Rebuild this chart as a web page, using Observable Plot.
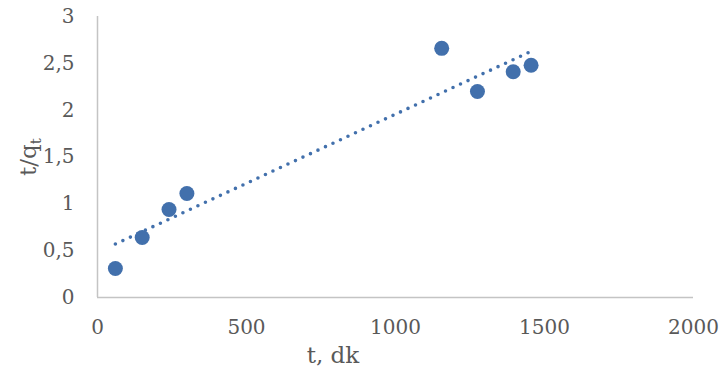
<!DOCTYPE html>
<html>
<head>
<meta charset="utf-8">
<script src="https://cdn.jsdelivr.net/npm/d3@7"></script>
<script src="https://cdn.jsdelivr.net/npm/@observablehq/plot@0.6"></script>
<style>
  html, body { margin: 0; padding: 0; background: #fff; }
  #chart svg { display: block; }
</style>
</head>
<body>
<div id="chart"></div>
<script>
const tValues = [60, 150, 240, 300, 1155, 1275, 1395, 1455];
const tqValues = [0.31, 0.64, 0.94, 1.11, 2.66, 2.20, 2.41, 2.48];
const xTicks = [0, 500, 1000, 1500, 2000];
const yTicks = [0, 0.5, 1, 1.5, 2, 2.5, 3];

const data = tValues.map((t, i) => ({t, tq: tqValues[i]}));
const color = "#4270AC";
const textColor = "#595959";
const fmtY = d => String(d).replace(".", ",");

const plot = Plot.plot({
  width: 721,
  height: 374,
  marginLeft: 97,
  marginRight: 28,
  marginTop: 16,
  marginBottom: 77,
  style: {fontFamily: "DejaVu Serif", fontSize: "20px", color: textColor, background: "#fff"},
  x: {domain: [0, 2000], ticks: xTicks, tickSize: 0, tickPadding: 22, label: null, tickFormat: d => String(d)},
  y: {domain: [0, 3], ticks: yTicks, tickSize: 0, tickPadding: 23, label: null, tickFormat: fmtY},
  marks: [
    Plot.ruleY([0], {stroke: "#c4c4c4", strokeWidth: 1.5}),
    Plot.ruleX([0], {stroke: "#c4c4c4", strokeWidth: 1.5}),
    Plot.dot(data, {x: "t", y: "tq", r: 7.5, fill: color, stroke: "none"}),
    Plot.linearRegressionY(data, {x: "t", y: "tq", ci: 0, stroke: color, strokeWidth: 3.6, strokeDasharray: "0,8.27", strokeLinecap: "round"})
  ]
});

const svg = d3.select(plot);
svg.selectAll("[aria-label='x-axis tick label'] text, [aria-label='y-axis tick label'] text").attr("fill", textColor);
svg.append("text")
  .attr("x", 333).attr("y", 363)
  .attr("text-anchor", "middle")
  .attr("font-family", "DejaVu Serif").attr("font-size", 23)
  .attr("fill", textColor)
  .text("t, dk");
const yl = svg.append("text")
  .attr("transform", "translate(36,157) rotate(-90)")
  .attr("text-anchor", "middle")
  .attr("font-family", "DejaVu Serif").attr("font-size", 23)
  .attr("fill", textColor);
yl.append("tspan").text("t/q");
yl.append("tspan").attr("font-size", 15).attr("dy", 5).text("t");
document.getElementById("chart").appendChild(plot);
</script>
</body>
</html>
